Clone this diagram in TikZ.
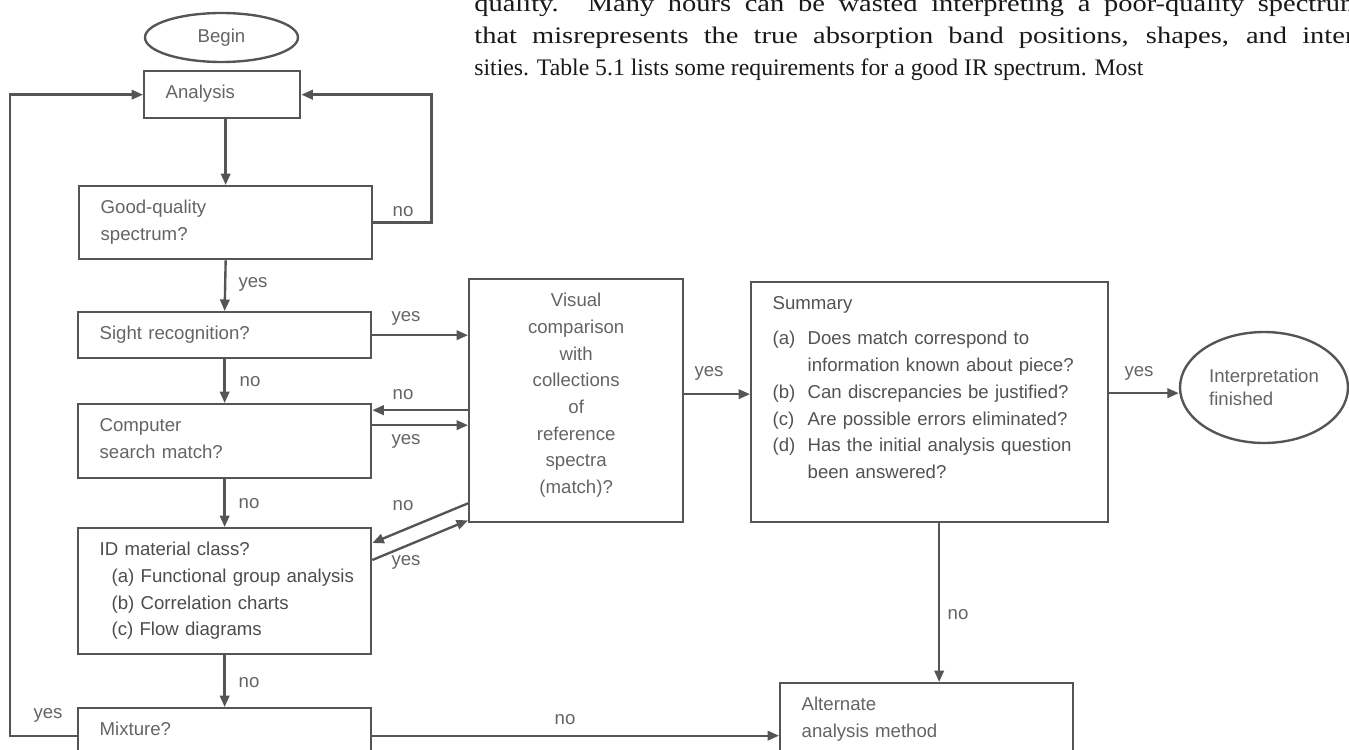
\documentclass[tikz,border=0pt]{standalone}
\usepackage{fontspec}
\setmainfont{Liberation Serif}
\newfontfamily\flowfont{Liberation Sans}
\usetikzlibrary{arrows.meta, calc, shapes.geometric}
\definecolor{flowline}{RGB}{85, 85, 85}
\definecolor{flowtext}{RGB}{100, 100, 100}
\definecolor{bodytext}{RGB}{25, 25, 25}
\tikzset{
  fbox/.style={rectangle, draw=flowline, line width=1.35pt, text=flowtext,
               anchor=north west, align=left, inner xsep=0.43cm, inner ysep=0pt,
               text height=0.55cm, text depth=#1,
               font=\flowfont\fontsize{10.6}{15.2}\selectfont},
  fbox/.default=0.4cm,
  oval/.style={ellipse, draw=flowline, line width=1.35pt, text=flowtext,
               align=left, inner sep=0pt, font=\flowfont\fontsize{10.6}{13}\selectfont},
  arrow/.style={-{Triangle[length=0.23cm, width=0.19cm]}, line width=1.35pt, draw=flowline},
  lbl/.style={text=flowtext, inner sep=0pt, font=\flowfont\fontsize{10.6}{13}\selectfont},
  bodyline/.style={anchor=base west, text=bodytext, inner sep=0pt,
                   font=\fontsize{13.5}{17.6}\selectfont},
}

\begin{document}
\begin{tikzpicture}[x=0.02cm, y=-0.02cm]
  \useasboundingbox (0,0) rectangle (1349,750);
  \clip (0,0) rectangle (1349,750);

  % running text of the page
  \node[bodyline] (line1) at (474,12) {\scalebox{1.2}[1]{\makebox[14.8cm][s]{quality. Many hours can be wasted interpreting a poor-quality spectrum}}};
  \node[bodyline] (line2) at (474,44) {\scalebox{1.2}[1]{\makebox[14.75cm][s]{that misrepresents the true absorption band positions, shapes, and inten}}};
  \node[bodyline] (line3) at (474,76) {sities. Table 5.1 lists some requirements for a good IR spectrum. Most};

  \node[oval, minimum width=3.06cm, minimum height=0.98cm] (begin) at (221.5,37.5) {Begin};
  \node[fbox=0.39cm, text width=2.26cm] (analysis) at (143,70) {Analysis};
  \node[fbox=0.91cm, text width=5cm] (good) at (78,185) {Good-quality\\spectrum?};
  \node[fbox=0.37cm, text width=5cm] (sight) at (77,311) {Sight recognition?};
  \node[fbox=0.93cm, text width=5cm] (computer) at (77,403) {Computer\\search match?};
  \node[fbox=1.97cm, text width=5cm, text=black!70] (id) at (77,527)
    {ID material class?\\
     \hspace*{0.24cm}\mbox{(a) Functional group analysis}\\
     \hspace*{0.24cm}(b) Correlation charts\\
     \hspace*{0.24cm}(c) Flow diagrams};
  \node[fbox=0.7cm, text width=5cm] (mixture) at (77,707) {Mixture?};

  \node[fbox=4.31cm, text width=3.42cm, align=center] (visual) at (468,278)
    {Visual\\comparison\\with\\collections\\of\\reference\\spectra\\(match)?};
  \node[fbox=4.25cm, text width=6.28cm, text=black!68] (summary) at (750,281)
    {Summary\\[0.17cm]
     \makebox[0.7cm][l]{(a)}Does match correspond to\\
     \hspace*{0.7cm}information known about piece?\\
     \makebox[0.7cm][l]{(b)}Can discrepancies be justified?\\
     \makebox[0.7cm][l]{(c)}Are possible errors eliminated?\\
     \makebox[0.7cm][l]{(d)}Has the initial analysis question\\
     \hspace*{0.7cm}been answered?};
  \node[oval, minimum width=3.36cm, minimum height=2.22cm] (interp) at (1264,387.5)
    {Interpretation\\finished};
  \node[fbox=1.3cm, text width=5cm] (alternate) at (779,682) {Alternate\\analysis method};

  % main column
  \draw[arrow] (analysis.south -| good.north) -- (good.north);
  \draw[arrow] (good.east) -- ++(58,0) |- (analysis.east);
  \draw[arrow] (good.south) -- (sight.north);
  \draw[arrow] (sight.south) -- (computer.north);
  \draw[arrow] (computer.south) -- (id.north);
  \draw[arrow] (id.south) -- (mixture.north);
  \draw[arrow] (mixture.base west) -- ++(-67,0) |- (analysis.west);
  \draw[arrow] (mixture.base east) -- (mixture.base east -| alternate.west);

  % to and from the visual comparison
  \coordinate (cno) at ([yshift=0.62cm]computer.east);
  \coordinate (cyes) at ([yshift=0.32cm]computer.east);
  \coordinate (vyes) at ([yshift=0.13cm]visual.east);
  \draw[arrow] (sight.east) -- (sight.east -| visual.west);
  \draw[arrow] (cno -| visual.west) -- (cno);
  \draw[arrow] (cyes) -- (cyes -| visual.west);
  \draw[arrow] ([yshift=0.4cm]visual.south west) -- ([yshift=-0.32cm]id.north east);
  \draw[arrow] ([yshift=-0.66cm]id.north east) -- ([yshift=0.06cm]visual.south west);
  \draw[arrow] (vyes) -- (vyes -| summary.west);

  % summary
  \coordinate (syes) at ([yshift=0.18cm]summary.east);
  \coordinate (sno) at ([xshift=0.19cm]summary.south);
  \draw[arrow] (syes) -- (syes -| interp.west);
  \draw[arrow] (sno) -- (sno |- alternate.north);

  \node[lbl] (lgood) at (403,212) {no};
  \node[lbl] (lgoodyes) at (253,284) {yes};
  \node[lbl] (lsight) at (406,318) {yes};
  \node[lbl] (lsightno) at (250,382) {no};
  \node[lbl] (lvisno) at (403,395) {no};
  \node[lbl] (lcompyes) at (406,441) {yes};
  \node[lbl] (lcompno) at (249,504) {no};
  \node[lbl] (lidno) at (403,506) {no};
  \node[lbl] (lidyes) at (406,562) {yes};
  \node[lbl] (lmixno) at (249,683) {no};
  \node[lbl] (lmixyes) at (48,715) {yes};
  \node[lbl] (laltno) at (565,720) {no};
  \node[lbl] (lvisyes) at (709,373) {yes};
  \node[lbl] (lsumyes) at (1139,373) {yes};
  \node[lbl] (lsumno) at (958,615) {no};
\end{tikzpicture}
\end{document}
